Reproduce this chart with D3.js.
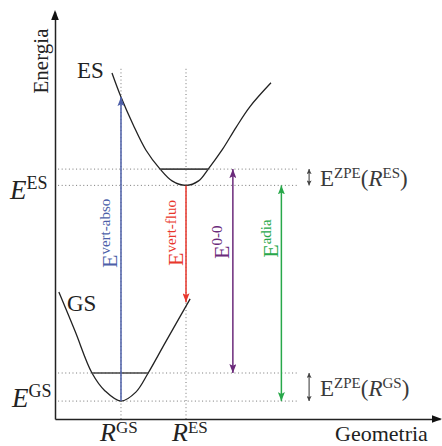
<!DOCTYPE html>
<html><head><meta charset="utf-8">
<script src="https://cdn.jsdelivr.net/npm/d3@7"></script>
<style>
body{margin:0;background:#fff}
svg{display:block}
</style>
</head><body>
<svg id="c" width="442" height="446" font-family="'Liberation Serif', 'Times New Roman', Tinos, 'DejaVu Serif', serif"></svg>
<script>
// ---- data (arbitrary units: geometry 0..100, energy 0..100) ----
const gsCurve = [[1.0,31.2],[5.2,21.6],[9.6,11.3],[13.0,6.9],[17.14,4.4],[21.0,6.6],[24.2,11.3],[28.6,18.7],[35.1,29.5]];
const esCurve = [[14.8,85.0],[17.14,79.1],[20.3,72.3],[23.6,66.1],[27.3,61.4],[30.4,58.5],[34.03,57.4],[37.3,58.5],[39.8,61.4],[43.4,66.1],[47.0,71.6],[50.6,76.7],[56.1,82.6]];
const geometries = [17.14, 34.03];          // R_GS, R_ES
const geometryNames = ["GS", "ES"];
const minEnergies = [4.4, 57.4];             // E_GS, E_ES
const zpeEnergies = [11.3, 61.4];            // GS, ES zero-point levels
const zpeExtents = [[9.6, 24.2], [27.3, 39.8]];
const transitionNames = ["vert-abso", "vert-fluo", "0-0", "adia"];
const transitionX = [17.14, 34.03, 46.2, 58.8];
const transitionFrom = [4.4, 57.4, 11.3, 4.4];
const transitionTo = [79.1, 28.7, 61.4, 57.4];
const transitionBoth = [false, false, true, true];
const transitionColors = ["#4d5fa9", "#e8372c", "#6b2a7b", "#28a84a"];
const transitionLabelY = [37.1, 37.6, 39.3, 39.6];

const FONT = "'Liberation Serif', 'Times New Roman', Tinos, 'DejaVu Serif', serif";
const svg = d3.select("#c");
const x = d3.scaleLinear().domain([0, 100]).range([55, 440]);
const y = d3.scaleLinear().domain([0, 100]).range([419, 12]);

// dotted guides
const dotted = svg.append("g").attr("stroke", "#777").attr("stroke-width", 1).attr("stroke-dasharray", "1,2.6");
[...minEnergies, ...zpeEnergies].forEach(e => {
  dotted.append("line").attr("x1", x(0.8)).attr("x2", x(62.8)).attr("y1", y(e)).attr("y2", y(e));
});
geometries.forEach(g => {
  dotted.append("line").attr("x1", x(g)).attr("x2", x(g)).attr("y1", y(0)).attr("y2", y(86.2));
});

// axes
svg.append("g").attr("transform", `translate(0,${y(0)})`)
  .call(d3.axisBottom(x).tickValues([]).tickSizeOuter(0))
  .select(".domain").attr("stroke", "#222").attr("stroke-width", 1.5);
svg.append("g").attr("transform", `translate(${x(0)},0)`)
  .call(d3.axisLeft(y).tickValues([]).tickSizeOuter(0))
  .select(".domain").attr("stroke", "#222").attr("stroke-width", 1.5);
svg.append("path").attr("fill", "#111")
  .attr("d", `M${x(0)},${y(100)-2} L${x(0)+3.8},${y(100)+8} L${x(0)-3.8},${y(100)+8} Z`);
svg.append("path").attr("fill", "#111")
  .attr("d", `M${x(100)+2},${y(0)} L${x(100)-8},${y(0)-3.8} L${x(100)-8},${y(0)+3.8} Z`);

// curves
const line = d3.line().x(d => x(d[0])).y(d => y(d[1])).curve(d3.curveCatmullRom.alpha(0.5));
[gsCurve, esCurve].forEach(c => {
  svg.append("path").datum(c).attr("d", line).attr("fill", "none").attr("stroke", "#222").attr("stroke-width", 1.3);
});

// zero point levels
zpeEnergies.forEach((e, i) => {
  svg.append("line").attr("x1", x(zpeExtents[i][0])).attr("x2", x(zpeExtents[i][1]))
    .attr("y1", y(e)).attr("y2", y(e)).attr("stroke", "#444").attr("stroke-width", 1.6);
});

// arrowhead markers
const defs = svg.append("defs");
function marker(id, color, len, wid) {
  defs.append("marker").attr("id", id).attr("markerUnits", "userSpaceOnUse")
    .attr("viewBox", `0 ${-wid/2} ${len} ${wid}`).attr("refX", len).attr("refY", 0)
    .attr("markerWidth", len).attr("markerHeight", wid).attr("orient", "auto-start-reverse")
    .append("path").attr("d", `M0,${-wid/2} L${len},0 L0,${wid/2} L${len*0.2},0 Z`).attr("fill", color);
}
transitionColors.forEach((c, i) => marker("m" + i, c, 9, 7));
marker("mg", "#444", 5, 5);

function txt(sel) { return sel.append("text").attr("font-family", FONT); }

// transitions
transitionNames.forEach((n, i) => {
  const ln = svg.append("line").attr("x1", x(transitionX[i])).attr("x2", x(transitionX[i]))
    .attr("y1", y(transitionFrom[i])).attr("y2", y(transitionTo[i]))
    .attr("stroke", transitionColors[i]).attr("stroke-width", 1.5)
    .attr("marker-end", `url(#m${i})`);
  if (transitionBoth[i]) ln.attr("marker-start", `url(#m${i})`);
  const t = txt(svg).attr("fill", transitionColors[i])
    .attr("transform", `translate(${x(transitionX[i]) - 3.5},${y(transitionLabelY[i])}) rotate(-90)`);
  t.append("tspan").attr("font-size", 22).text("E");
  t.append("tspan").attr("font-size", 15).attr("dy", -7).text(n);
});

// zero point energy double arrows and labels
zpeEnergies.forEach((e, i) => {
  svg.append("line").attr("x1", x(66)).attr("x2", x(66)).attr("y1", y(minEnergies[i])).attr("y2", y(e))
    .attr("stroke", "#444").attr("stroke-width", 1.1)
    .attr("marker-start", "url(#mg)").attr("marker-end", "url(#mg)");
  const mid = (y(minEnergies[i]) + y(e)) / 2;
  const t = txt(svg).attr("x", 320).attr("y", mid + 9).attr("fill", "#3a3a3a").attr("font-size", 23);
  t.append("tspan").text("E");
  t.append("tspan").attr("font-size", 15).attr("dy", -8).text("ZPE");
  t.append("tspan").attr("dy", 8).text("(");
  t.append("tspan").attr("font-style", "italic").text("R");
  t.append("tspan").attr("font-size", 15).attr("dy", -8).text(geometryNames[i]);
  t.append("tspan").attr("dy", 8).text(")");
});

// energy labels on the left
const eLab = [{n: "ES", yy: y(minEnergies[1]) + 13.5, xx: 10}, {n: "GS", yy: y(minEnergies[0]) + 6, xx: 12}];
eLab.forEach(d => {
  const t = txt(svg).attr("x", d.xx).attr("y", d.yy).attr("fill", "#222");
  t.append("tspan").attr("font-size", 27).attr("font-style", "italic").text("E");
  t.append("tspan").attr("font-size", 18).attr("dy", -10).text(d.n);
});

// geometry labels
const gOff = [-21, -14];
geometries.forEach((g, i) => {
  const t = txt(svg).attr("x", x(g) + gOff[i]).attr("y", 441).attr("fill", "#222");
  t.append("tspan").attr("font-size", 26).attr("font-style", "italic").text("R");
  t.append("tspan").attr("font-size", 17).attr("dy", -8).text(geometryNames[i]);
});

// state labels
txt(svg).attr("x", 77).attr("y", 78).attr("font-size", 23).attr("fill", "#222").text("ES");
txt(svg).attr("x", 67).attr("y", 311).attr("font-size", 23).attr("fill", "#222").text("GS");

// axis titles
txt(svg).attr("transform", "translate(48,61) rotate(-90)").attr("text-anchor", "middle")
  .attr("font-size", 21).attr("fill", "#222").text("Energia");
txt(svg).attr("x", 335).attr("y", 441).attr("font-size", 22).attr("fill", "#222").text("Geometria");
</script>
</body></html>
